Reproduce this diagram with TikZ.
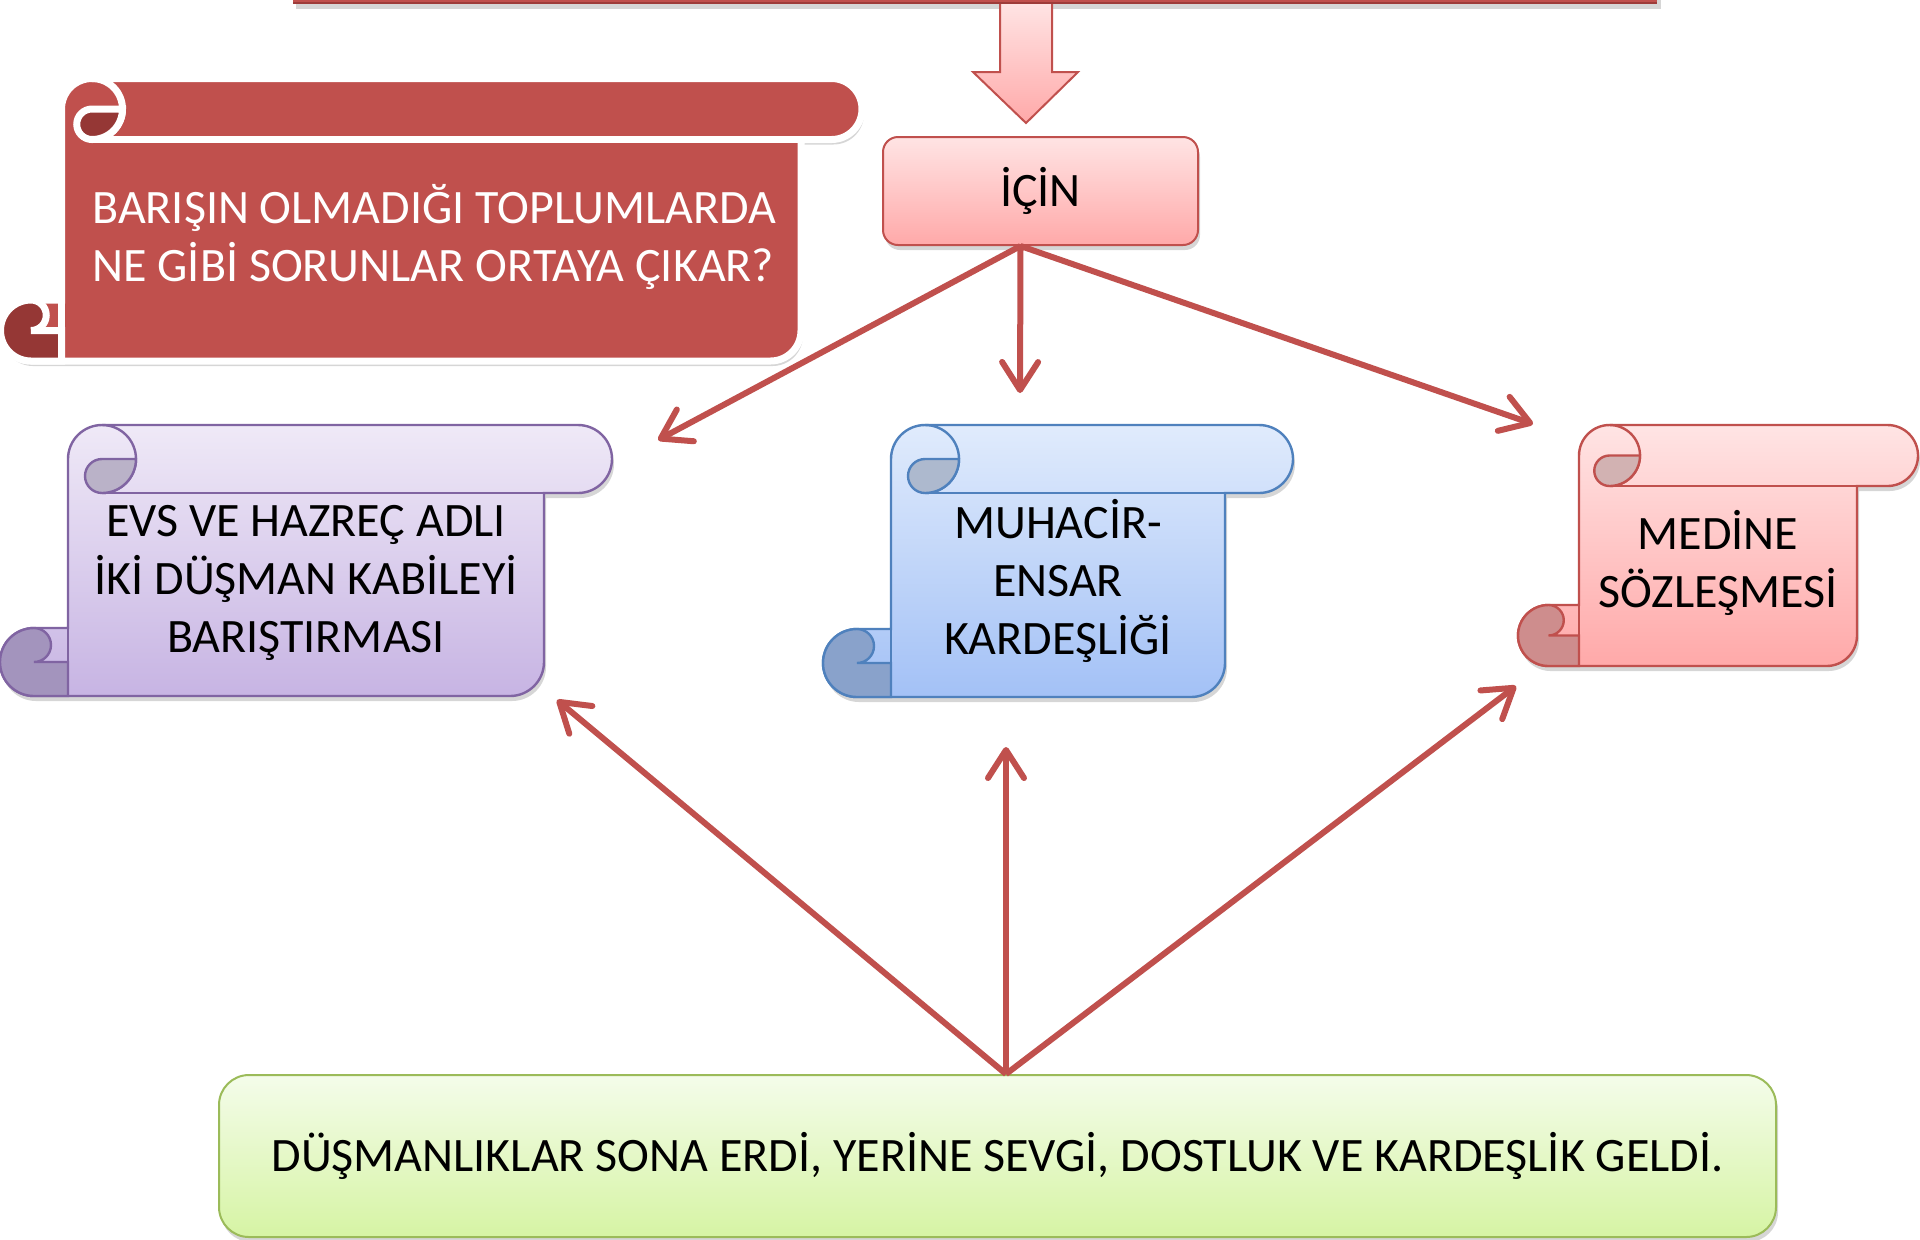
\documentclass[tikz,border=0pt]{standalone}
\usepackage{fontspec}
\setmainfont{Carlito}
\usetikzlibrary{arrows.meta}
\definecolor{accred}{HTML}{C0504D}
\definecolor{reddark}{HTML}{953735}
\definecolor{pinktop}{HTML}{FFE4E4}
\definecolor{pinkbot}{HTML}{FFA9A9}
\definecolor{purpline}{HTML}{8064A2}
\definecolor{purptop}{HTML}{EFE9F7}
\definecolor{purpbot}{HTML}{C7B4E3}
\definecolor{purpcurlA}{HTML}{BAB2C8}
\definecolor{purpcurlB}{HTML}{A394BD}
\definecolor{bluline}{HTML}{4F81BD}
\definecolor{blutop}{HTML}{E0EBFC}
\definecolor{blubot}{HTML}{A3C1F6}
\definecolor{blucurlA}{HTML}{ADB9CE}
\definecolor{blucurlB}{HTML}{89A2CB}
\definecolor{redcurlA}{HTML}{D2B2B2}
\definecolor{redcurlB}{HTML}{CE8D8D}
\definecolor{grnline}{HTML}{9BBB59}
\definecolor{grntop}{HTML}{F4FCEA}
\definecolor{grnbot}{HTML}{D6F4A4}
\newcommand{\hscroll}[9]{%
  \pgfmathsetmacro{\scrL}{#1+2*#5}%
  \pgfmathsetmacro{\scrR}{#3-2*#5}%
  \pgfmathsetmacro{\scrC}{#5}%
  \pgfmathsetmacro{\scrH}{#5/2}%
  \fill[black,opacity=0.16,shift={(2,5)}] (\scrL,#4-2*\scrC) -- (\scrL,#2+\scrC)
     arc[start angle=180,end angle=270,radius=\scrC] -- (#3-\scrC,#2)
     arc[start angle=-90,end angle=90,radius=\scrC] -- (\scrR,#2+2*\scrC) -- (\scrR,#4-\scrC)
     arc[start angle=0,end angle=90,radius=\scrC] -- (\scrL-\scrC,#4)
     arc[start angle=90,end angle=270,radius=\scrC] -- cycle;
  \path[#6,#7] (\scrL,#4-2*\scrC) -- (\scrL,#2+\scrC)
     arc[start angle=180,end angle=270,radius=\scrC] -- (#3-\scrC,#2)
     arc[start angle=-90,end angle=90,radius=\scrC] -- (\scrR,#2+2*\scrC) -- (\scrR,#4-\scrC)
     arc[start angle=0,end angle=90,radius=\scrC] -- (\scrL-\scrC,#4)
     arc[start angle=90,end angle=270,radius=\scrC] -- cycle;
  \draw[#7] (\scrR,#2+2*\scrC) -- (\scrL+\scrC,#2+2*\scrC);
  \draw[#7] (\scrL+\scrC,#2) arc[start angle=-90,end angle=90,radius=\scrC];
  \path[fill=#8,#7] (\scrL+\scrC,#2+2*\scrC) arc[start angle=90,end angle=270,radius=\scrH]
     -- (\scrL+2*\scrC,#2+\scrC) arc[start angle=0,end angle=90,radius=\scrC] -- cycle;
  \path[fill=#9,#7] (\scrL-\scrC,#4-\scrC) -- (\scrL,#4-\scrC) -- (\scrL,#4) -- (\scrL-\scrC,#4)
     arc[start angle=90,end angle=270,radius=\scrC]
     arc[start angle=-90,end angle=90,radius=\scrH] -- cycle;
  \draw[#7] (\scrL,#4-2*\scrC) -- (\scrL,#4);
}
\begin{document}
\begin{tikzpicture}[x=0.5pt,y=-0.5pt,
  txt/.style={font=\fontsize{24pt}{29pt}\selectfont, align=center, inner sep=0pt, text=black},
  boxshadow/.style={preaction={fill=black,opacity=0.16,transform canvas={xshift=1pt,yshift=-2.5pt}}},
  conn/.style={draw=accred, line width=3pt, -{Straight Barb[round,length=14pt,width=18pt]}}]
\useasboundingbox (0,0) rectangle (1920,1239);
\fill[white] (0,0) rectangle (1920,1239);

% top bar (cut off) and block arrow
\fill[black,opacity=0.16] (296,-10) rectangle (1661,9);
\path[top color=pinktop,bottom color=pinkbot,draw=accred,line width=1pt]
  (1000,2) -- (1052,2) -- (1052,72) -- (1078,72) -- (1026,123) -- (973,72) -- (1000,72) -- cycle;
\fill[accred] (293,-10) rectangle (1657,3);
\draw[reddark!80!accred,line width=1pt] (293,3) -- (1657,3);

% question scroll
\hscroll{0.5}{78.5}{862}{361}{30.5}{fill=accred}{draw=white,line width=3.5pt}{reddark}{reddark}
\node[txt, text=white, align=left, anchor=west] (soru) at (92,237)
  {BARIŞIN OLMADIĞI TOPLUMLARDA\\NE GİBİ SORUNLAR ORTAYA ÇIKAR?};

% İÇİN box
\node[txt, boxshadow, minimum width=157.5pt, minimum height=54pt, rounded corners=7.5pt,
  draw=accred, line width=1pt, top color=pinktop, bottom color=pinkbot] (icin) at (1040.5,191) {İÇİN};

% scrolls
\hscroll{0}{425}{612}{696}{34}{top color=purptop,bottom color=purpbot}{draw=purpline,line width=1.2pt}{purpcurlA}{purpcurlB}
\node[txt] (evs) at (306,583) {EVS VE HAZREÇ ADLI\\İKİ DÜŞMAN KABİLEYİ\\BARIŞTIRMASI};

\hscroll{823}{425}{1293}{697}{34}{top color=blutop,bottom color=blubot}{draw=bluline,line width=1.2pt}{blucurlA}{blucurlB}
\node[txt] (muh) at (1058,581) {MUHACİR-\\ENSAR\\KARDEŞLİĞİ};

\hscroll{1518}{425}{1918}{666}{30.5}{top color=pinktop,bottom color=pinkbot}{draw=accred,line width=1.2pt}{redcurlA}{redcurlB}
\node[txt] (med) at (1718,563) {MEDİNE\\SÖZLEŞMESİ};

% result box
\node[txt, boxshadow, minimum width=778.5pt, minimum height=81pt, rounded corners=15pt,
  draw=grnline, line width=1pt, top color=grntop, bottom color=grnbot] (res) at (997.5,1156)
  {DÜŞMANLIKLAR SONA ERDİ, YERİNE SEVGİ, DOSTLUK VE KARDEŞLİK GELDİ.};

% connectors
\coordinate (ib) at ([xshift=-10pt]icin.south);
\coordinate (t1) at (658,440);
\coordinate (t2) at (1020,393);
\coordinate (t3) at (1533,424);
\draw[conn] (ib) -- (t1);
\draw[conn] (ib) -- (t2);
\draw[conn] (ib) -- (t3);

\coordinate (bt) at ([xshift=4.25pt]res.north);
\coordinate (u1) at (557,700);
\coordinate (u2) at (1006,747);
\coordinate (u3) at (1516,686);
\draw[conn] (bt) -- (u1);
\draw[conn] (bt) -- (u2);
\draw[conn] (bt) -- (u3);
\end{tikzpicture}
\end{document}
